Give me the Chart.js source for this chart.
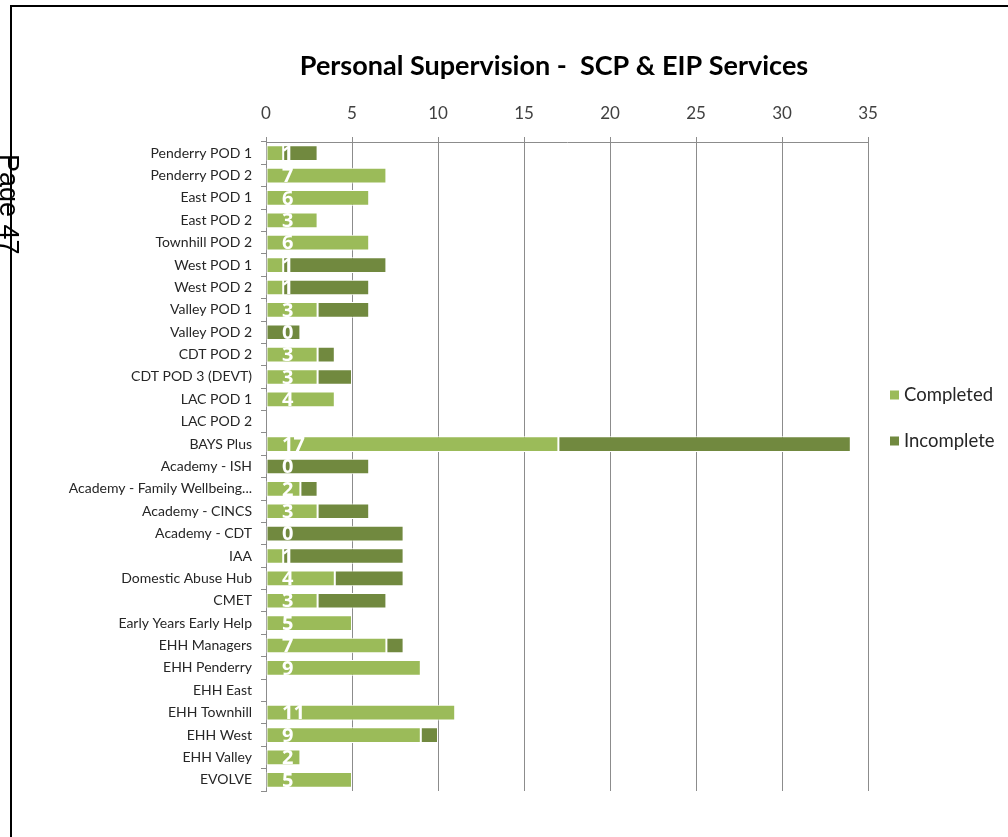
<!DOCTYPE html>
<html><head><meta charset="utf-8">
<script src="https://cdn.jsdelivr.net/npm/chart.js@4.4.1/dist/chart.umd.min.js"></script>
<style>
html,body{margin:0;padding:0;background:#fff;overflow:hidden}
#wrap{position:relative;width:1008px;height:837px;overflow:hidden}
#c{position:absolute;left:0;top:0}
#frameTop{position:absolute;left:10px;top:5px;width:998px;height:2px;background:#000}
#frameLeft{position:absolute;left:10px;top:5px;width:2px;height:832px;background:#000}
#page{position:absolute;left:22px;top:154px;transform:rotate(90deg);transform-origin:left top;font:27px "Liberation Sans";line-height:27px;white-space:nowrap;color:#000}
</style></head>
<body><div id="wrap">
<canvas id="c" width="1008" height="837"></canvas>
<div id="frameTop"></div><div id="frameLeft"></div>
<div id="page">Page 47</div>
</div>
<script>
const categories = ["Penderry POD 1","Penderry POD 2","East POD 1","East POD 2","Townhill POD 2","West POD 1","West POD 2","Valley POD 1","Valley POD 2","CDT POD 2","CDT POD 3 (DEVT)","LAC POD 1","LAC POD 2","BAYS Plus","Academy - ISH","Academy - Family Wellbeing...","Academy - CINCS","Academy - CDT","IAA","Domestic Abuse Hub","CMET","Early Years Early Help","EHH Managers","EHH Penderry","EHH East","EHH Townhill","EHH West","EHH Valley","EVOLVE"];
const completed  = [1,7,6,3,6,1,1,3,0,3,3,4,null,17,0,2,3,0,1,4,3,5,7,9,null,11,9,2,5];
const incomplete = [2,0,0,0,0,6,5,3,2,1,2,0,null,17,6,1,3,8,7,4,4,0,1,0,null,0,1,0,0];
const seriesNames = ["Completed","Incomplete"];
const seriesColors = ["#9BBB59","#71893F"];
const titleText = "Personal Supervision -  SCP & EIP Services";

const FONT = "Lato";

const completedLabels = {
  id: "completedLabels",
  afterDatasetsDraw(chart) {
    const ctx = chart.ctx, xs = chart.scales.x, meta = chart.getDatasetMeta(0);
    ctx.save();
    ctx.fillStyle = "#ffffff";
    ctx.font = "bold 20px 'Open Sans'";
    ctx.textAlign = "left";
    ctx.textBaseline = "middle";
    meta.data.forEach((bar, i) => {
      const v = completed[i];
      if (v === null || v === undefined) return;
      ctx.fillText(String(v), xs.getPixelForValue(0) + 16, bar.y + 1);
    });
    ctx.restore();
  }
};

const decor = {
  id: "decor",
  afterDraw(chart) {
    const ctx = chart.ctx;
    ctx.save();
    ctx.fillStyle = "#000";
    ctx.font = "bold 27px " + FONT;
    ctx.textAlign = "center";
    ctx.textBaseline = "middle";
    ctx.fillText(titleText, 554, 66);
    ctx.font = "18.5px " + FONT;
    ctx.textAlign = "left";
    const ys = [395, 441];
    seriesNames.forEach((n, i) => {
      ctx.fillStyle = seriesColors[i];
      ctx.fillRect(890, ys[i] - 4.5, 9, 9);
      ctx.fillStyle = "#262626";
      ctx.fillText(n, 904, ys[i]);
    });
    ctx.restore();
  }
};

new Chart(document.getElementById("c"), {
  type: "bar",
  data: {
    labels: categories,
    datasets: [
      { label: seriesNames[0], data: completed, backgroundColor: seriesColors[0], borderColor: "#ffffff", borderWidth: 1, borderSkipped: false },
      { label: seriesNames[1], data: incomplete, backgroundColor: seriesColors[1], borderColor: "#ffffff", borderWidth: 1, borderSkipped: false }
    ]
  },
  options: {
    indexAxis: "y",
    responsive: false,
    devicePixelRatio: 1,
    animation: false,
    layout: { padding: { left: 0, right: 140, top: 0, bottom: 46 } },
    datasets: { bar: { categoryPercentage: 1, barPercentage: 0.7 } },
    plugins: { legend: { display: false }, title: { display: false }, tooltip: { enabled: false } },
    scales: {
      x: {
        position: "top", stacked: true, min: 0, max: 35,
        ticks: { stepSize: 5, color: "#404040", font: { family: FONT, size: 17 }, padding: 13 },
        grid: { color: "#8c8c8c", tickLength: 5 },
        border: { color: "#8c8c8c" },
        afterFit(s) { s.height = 142; }
      },
      y: {
        stacked: true,
        ticks: { color: "#262626", font: { family: FONT, size: 14 }, padding: 9, autoSkip: false },
        grid: { drawOnChartArea: false, tickLength: 5, color: "#8c8c8c", offset: true },
        border: { color: "#8c8c8c" },
        afterFit(s) { s.width = 266; }
      }
    }
  },
  plugins: [completedLabels, decor]
});
</script>
</body></html>
